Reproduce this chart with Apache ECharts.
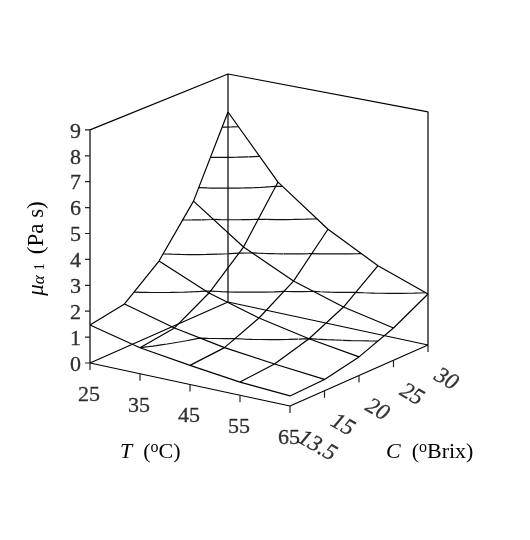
<!DOCTYPE html>
<html>
<head>
<meta charset="utf-8">
<style>html,body{margin:0;padding:0;background:#fff}#c{width:530px;height:540px}</style>
<script src="https://cdn.jsdelivr.net/npm/echarts@6/dist/echarts.min.js"></script>
</head>
<body>
<div id="c"></div>
<script>
// Category axes (evenly spaced, as in the original chart)
var temperatures = ['25', '35', '45', '55', '65'];
var concentrations = ['13.5', '15', '20', '25', '30'];
var viscosityTicks = [0, 1, 2, 3, 4, 5, 6, 7, 8, 9];

// Viscosity at each temperature, one list per concentration
var viscosityC135 = [1.47, 1.00, 0.73, 0.50, 0.38];
var viscosityC15 = [1.70, 1.18, 0.83, 0.61, 0.43];
var viscosityC20 = [2.79, 1.95, 1.39, 1.00, 0.71];
var viscosityC25 = [4.56, 3.16, 2.24, 1.64, 1.24];
var viscosityC30 = [7.50, 5.13, 3.68, 2.66, 1.97];

var surface = [viscosityC135, viscosityC15, viscosityC20, viscosityC25, viscosityC30];
var contourLevels = [1, 2, 3, 4, 5, 6, 7];
var FONT = '"Liberation Serif", "Times New Roman", serif';

// Oblique projection of (temperature index, concentration index, viscosity)
function project(i, j, z) {
  var scale = 25.9 + 0.57 * (i - j) / 4;
  return [90 + 50 * i + 34.5 * j, 363 + 10.75 * i - 15.25 * j - z * scale];
}
var BREAK = [NaN, NaN];
var nT = temperatures.length - 1, nC = concentrations.length - 1, zTop = 9;

function frameLines() {
  var out = [];
  function seg() { for (var k = 0; k < arguments.length; k++) out.push(arguments[k]); out.push(BREAK); }
  seg(project(0, 0, 0), project(nT, 0, 0), project(nT, nC, 0), project(0, nC, 0), project(0, 0, 0));
  seg(project(0, 0, 0), project(0, 0, zTop), project(0, nC, zTop), project(nT, nC, zTop), project(nT, nC, 0));
  seg(project(0, nC, 0), project(0, nC, zTop));
  return out;
}
function tickLines() {
  var out = [];
  temperatures.forEach(function (_, i) {
    var p = project(i, 0, 0); out.push(p, [p[0], p[1] + 7], BREAK);
  });
  concentrations.forEach(function (_, j) {
    var p = project(nT, j, 0); out.push(p, [p[0], p[1] + 7], BREAK);
  });
  viscosityTicks.forEach(function (z) {
    var p = project(0, 0, z); out.push([p[0] - 5, p[1]], p, BREAK);
  });
  return out;
}
function meshLines() {
  var out = [];
  surface.forEach(function (row, j) {
    row.forEach(function (z, i) { out.push(project(i, j, z)); });
    out.push(BREAK);
  });
  temperatures.forEach(function (_, i) {
    surface.forEach(function (row, j) { out.push(project(i, j, row[i])); });
    out.push(BREAK);
  });
  return out;
}
// Iso-viscosity band borders derived from the surface values
function contourLines() {
  var out = [], n = 8;
  function f(c, r, u, v) {
    return surface[r][c] * (1 - u) * (1 - v) + surface[r][c + 1] * u * (1 - v) +
      surface[r + 1][c] * (1 - u) * v + surface[r + 1][c + 1] * u * v;
  }
  contourLevels.forEach(function (L) {
    for (var r = 0; r < nC; r++) for (var c = 0; c < nT; c++) {
      for (var a = 0; a < n; a++) for (var b = 0; b < n; b++) {
        var u0 = a / n, u1 = (a + 1) / n, v0 = b / n, v1 = (b + 1) / n;
        var corners = [[u0, v0], [u1, v0], [u1, v1], [u0, v1]];
        var vals = corners.map(function (p) { return f(c, r, p[0], p[1]); });
        var hits = [];
        for (var k = 0; k < 4; k++) {
          var m = (k + 1) % 4, va = vals[k], vb = vals[m];
          if ((va >= L) !== (vb >= L)) {
            var t = (L - va) / (vb - va);
            var uu = corners[k][0] + t * (corners[m][0] - corners[k][0]);
            var vv = corners[k][1] + t * (corners[m][1] - corners[k][1]);
            hits.push(project(c + uu, r + vv, L));
          }
        }
        if (hits.length >= 2) { out.push(hits[0], hits[1], BREAK); }
        if (hits.length === 4) { out.push(hits[2], hits[3], BREAK); }
      }
    }
  });
  return out;
}
function lineSeries(name, data, color, width) {
  return { name: name, type: 'line', data: data, symbol: 'none', showSymbol: false, silent: true,
    connectNulls: false, clip: false, animation: false,
    lineStyle: { color: color, width: width }, z: 2 };
}
function labelSeries(name, data, label) {
  return { name: name, type: 'scatter', data: data, symbolSize: 0, silent: true, animation: false, clip: false,
    label: Object.assign({ show: true, position: 'inside', color: '#000', fontFamily: FONT, fontSize: 22,
      textBorderColor: '#000', textBorderWidth: 0.3,
      formatter: function (p) { return p.value[2]; } }, label), z: 3 };
}
// A label's offset turns with the label, so undo the rotation to get a screen offset
var C_LABEL_ANGLE = 30;
function screenOffset(dx, dy, deg) {
  var a = deg * Math.PI / 180, cs = Math.cos(a), sn = Math.sin(a);
  return [dx * cs + dy * sn, -dx * sn + dy * cs];
}
var titleRich = {
  i: { fontFamily: FONT, fontSize: 22, fontStyle: 'italic', fill: '#000', lineHeight: 24 },
  n: { fontFamily: FONT, fontSize: 22, fill: '#000', lineHeight: 24 },
  s: { fontFamily: FONT, fontSize: 16, fill: '#000', verticalAlign: 'top', lineHeight: 8 }
};

var option = {
  backgroundColor: '#fff',
  animation: false,
  tooltip: { show: false },
  grid: { left: 0, right: 0, top: 0, bottom: 0 },
  xAxis: { type: 'value', min: 0, max: 530, show: false },
  yAxis: { type: 'value', min: 0, max: 540, inverse: true, show: false },
  series: [
    lineSeries('frame', frameLines(), '#000', 1.2),
    lineSeries('ticks', tickLines(), '#222', 1.2),
    lineSeries('contours', contourLines(), '#111', 1.2),
    lineSeries('mesh', meshLines(), '#000', 1.2),
    labelSeries('viscosity ticks', viscosityTicks.map(function (z) {
      var p = project(0, 0, z); return [p[0], p[1], String(z)];
    }), { align: 'right', verticalAlign: 'middle', offset: [-9, 2] }),
    labelSeries('temperature ticks', temperatures.map(function (t, i) {
      var p = project(i, 0, 0); return [p[0], p[1], t];
    }), { align: 'center', verticalAlign: 'middle', offset: [-1, 32] }),
    labelSeries('concentration ticks', concentrations.map(function (t, j) {
      var p = project(nT, j, 0);
      var extra = t.length - 2;
      return { value: [p[0], p[1], t],
        label: { offset: screenOffset(18 + extra * 4.5, 34.5 + extra * 2.75, C_LABEL_ANGLE) } };
    }), { align: 'center', verticalAlign: 'middle', fontStyle: 'italic', fontSize: 23, rotate: -C_LABEL_ANGLE })
  ],
  graphic: [
    { type: 'text', left: 120, top: 440, silent: true, style: { rich: titleRich, text: '{i|T}{n|  (}{s|o}{n|C)}' } },
    { type: 'text', left: 386, top: 440, silent: true, style: { rich: titleRich, text: '{i|C}{n|  (}{s|o}{n|Brix)}' } },
    { type: 'text', x: 37, y: 248.5, rotation: Math.PI / 2, silent: true, style: {
      align: 'center', verticalAlign: 'middle',
      rich: { i: { fontFamily: FONT, fontSize: 23, fontStyle: 'italic', fill: '#000' },
        a: { fontFamily: FONT, fontSize: 17, fontStyle: 'italic', fill: '#000', padding: [6, 0, 0, 0] },
        d: { fontFamily: FONT, fontSize: 14, fill: '#000', padding: [6, 9, 0, 5] },
        n: { fontFamily: FONT, fontSize: 23, fill: '#000' } },
      text: '{i|\u03bc}{a|\u03b1}{d|1}{n|(Pa s)}' } }
  ]
};
var chart = echarts.init(document.getElementById('c'), null, { renderer: 'canvas' });
chart.setOption(option);
</script>
</body>
</html>
